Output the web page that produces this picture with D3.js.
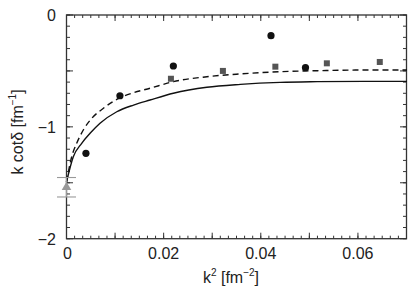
<!DOCTYPE html>
<html><head><meta charset="utf-8">
<script src="https://cdn.jsdelivr.net/npm/d3@7"></script>
<style>body{margin:0;background:#fff}svg{display:block}text{font-family:"Liberation Sans",Arial,sans-serif;fill:#222}</style>
</head><body><svg id="c" width="415" height="290"></svg>
<script>
// data
const circlesX = [0.0040, 0.0110, 0.0220, 0.0421, 0.0492];
const circlesY = [-1.237, -0.722, -0.456, -0.185, -0.471];
const squaresX = [0.0215, 0.0322, 0.0430, 0.0536, 0.0645];
const squaresY = [-0.570, -0.500, -0.462, -0.432, -0.420];
const triX = [0];
const triY = [-1.54];
const triErr = [0.087];
const solidX = [0, 0.0014, 0.00313, 0.00485, 0.0069, 0.01035, 0.0138, 0.0172, 0.022, 0.0289, 0.0358, 0.044, 0.0516, 0.0612, 0.0701];
const solidY = [-1.493, -1.267, -1.147, -1.058, -0.968, -0.865, -0.805, -0.760, -0.700, -0.646, -0.620, -0.602, -0.596, -0.593, -0.593];
const dashX = [0, 0.00107, 0.0021, 0.00346, 0.0052, 0.0076, 0.01035, 0.0138, 0.0172, 0.022, 0.0289, 0.0358, 0.044, 0.0516, 0.0612, 0.0701];
const dashY = [-1.493, -1.267, -1.147, -1.028, -0.924, -0.834, -0.754, -0.695, -0.655, -0.596, -0.552, -0.527, -0.507, -0.498, -0.492, -0.492];
const xTickVals = [0, 0.02, 0.04, 0.06];
const xTickLabels = ["0", "0.02", "0.04", "0.06"];
const yTickVals = [0, -1, -2];
const yTickLabels = ["0", "\u22121", "\u22122"];

const L = 66.5, R = 406.5, T = 15, B = 238.7;
const x = d3.scaleLinear().domain([0, 0.07]).range([L, R]);
const y = d3.scaleLinear().domain([-2, 0]).range([B, T]);
const svg = d3.select("#c");
const axCol = "#333";

// frame
svg.append("rect").attr("x", L).attr("y", T).attr("width", R - L).attr("height", B - T)
  .attr("fill", "none").attr("stroke", axCol).attr("stroke-width", 1.3);

// ticks
const xMinor = d3.range(0, 0.0701, 0.01 / 6);
const xMid = d3.range(0, 0.0701, 0.01);
const yMinor = d3.range(-2, 0.001, 0.1);
const yMid = d3.range(-2, 0.001, 0.5);
const g = svg.append("g").attr("stroke", axCol).attr("stroke-width", 1);
function addX(vals, len) {
  vals.forEach(v => {
    g.append("line").attr("x1", x(v)).attr("x2", x(v)).attr("y1", B).attr("y2", B - len);
    g.append("line").attr("x1", x(v)).attr("x2", x(v)).attr("y1", T).attr("y2", T + len);
  });
}
function addY(vals, len) {
  vals.forEach(v => {
    g.append("line").attr("y1", y(v)).attr("y2", y(v)).attr("x1", L).attr("x2", L + len);
    g.append("line").attr("y1", y(v)).attr("y2", y(v)).attr("x1", R).attr("x2", R - len);
  });
}
addX(xMinor, 3); addX(xMid, 6);
addY(yMinor, 3.5); addY(yMid, 6.5);

// tick labels
xTickVals.forEach((v, i) => svg.append("text").attr("x", x(v) + (i === 0 ? 1 : 0)).attr("y", 259)
  .attr("text-anchor", "middle").attr("font-size", 16).text(xTickLabels[i]));
yTickVals.forEach((v, i) => svg.append("text").attr("x", 56).attr("y", y(v) + 6)
  .attr("text-anchor", "end").attr("font-size", 16).text(yTickLabels[i]));

// axis titles
const xt = svg.append("text").attr("x", 231).attr("y", 283).attr("text-anchor", "middle").attr("font-size", 16);
xt.append("tspan").text("k");
xt.append("tspan").attr("font-size", 10).attr("dy", -7).text("2");
xt.append("tspan").attr("dy", 7).text(" [fm");
xt.append("tspan").attr("font-size", 10).attr("dy", -7).text("\u22122");
xt.append("tspan").attr("dy", 7).text("]");

const yt = svg.append("text").attr("transform", "translate(23,132) rotate(-90)").attr("text-anchor", "middle").attr("font-size", 16);
yt.append("tspan").text("k cot\u03b4 [fm");
yt.append("tspan").attr("font-size", 10).attr("dy", -7).text("\u22121");
yt.append("tspan").attr("dy", 7).text("]");

// curves
const line = d3.line().x(d => x(d[0])).y(d => y(d[1])).curve(d3.curveMonotoneX);
svg.append("path").datum(solidX.map((v, i) => [v, solidY[i]])).attr("d", line)
  .attr("fill", "none").attr("stroke", "#111").attr("stroke-width", 1.4);
svg.append("path").datum(dashX.map((v, i) => [v, dashY[i]])).attr("d", line)
  .attr("fill", "none").attr("stroke", "#111").attr("stroke-width", 1.4).attr("stroke-dasharray", "6,4");

// triangle with error bar
triX.forEach((v, i) => {
  const cx = x(v), cy = y(triY[i]);
  const eg = svg.append("g").attr("stroke", "#999").attr("stroke-width", 1.1);
  eg.append("line").attr("x1", cx).attr("x2", cx).attr("y1", y(triY[i] + triErr[i])).attr("y2", y(triY[i] - triErr[i]));
  [triY[i] + triErr[i], triY[i] - triErr[i]].forEach(e =>
    eg.append("line").attr("x1", cx - 9.5).attr("x2", cx + 9.5).attr("y1", y(e)).attr("y2", y(e)));
  svg.append("path").attr("d", d3.symbol(d3.symbolTriangle, 40)()).attr("transform", `translate(${cx},${cy})`)
    .attr("fill", "#999");
});

// squares
svg.selectAll(".sq").data(squaresX.map((v, i) => [v, squaresY[i]])).enter().append("rect")
  .attr("x", d => x(d[0]) - 3).attr("y", d => y(d[1]) - 3).attr("width", 6).attr("height", 6)
  .attr("fill", "#555");
// circles
svg.selectAll(".ci").data(circlesX.map((v, i) => [v, circlesY[i]])).enter().append("circle")
  .attr("cx", d => x(d[0])).attr("cy", d => y(d[1])).attr("r", 3.6).attr("fill", "#111");
</script></body></html>
